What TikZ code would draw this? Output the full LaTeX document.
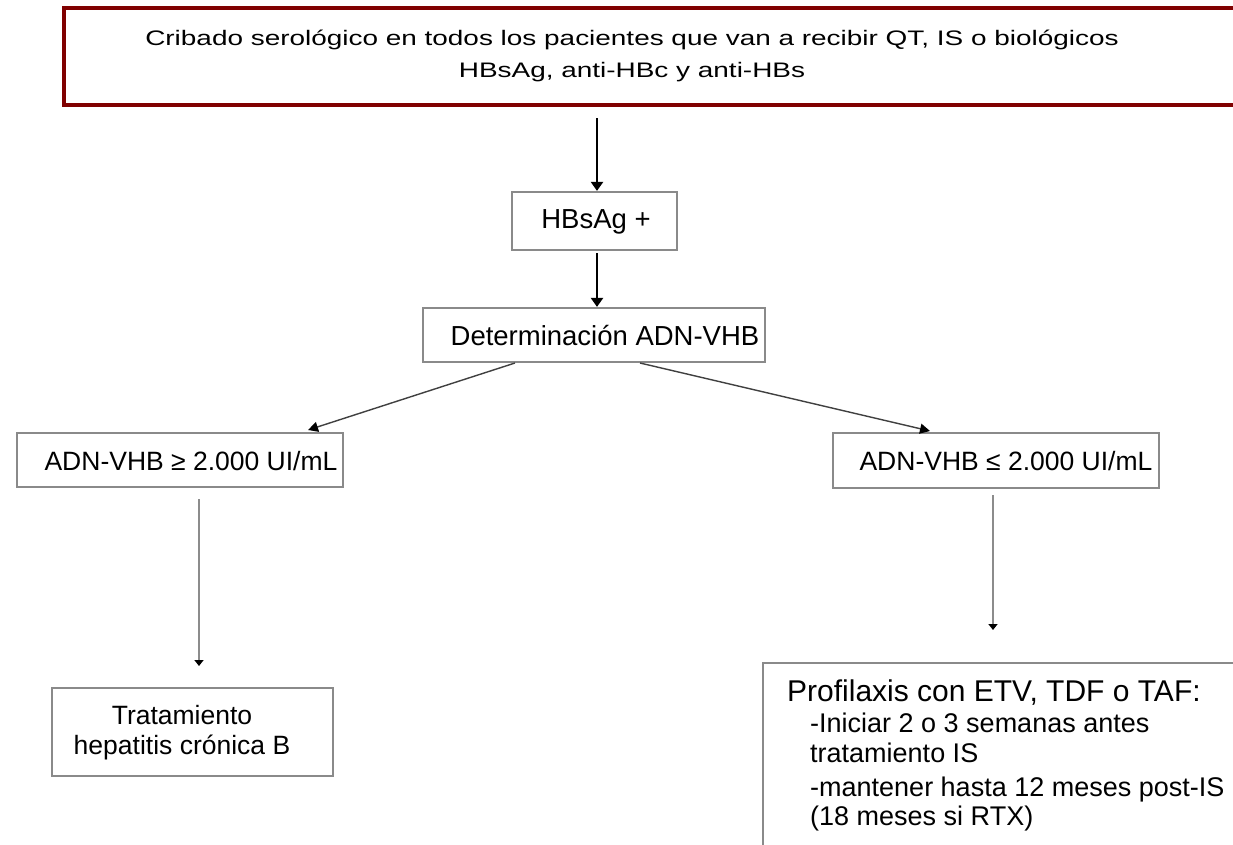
\documentclass[tikz,border=0pt]{standalone}
\usepackage{fontspec}
\setmainfont{Liberation Sans}
\newfontfamily\widesans[FakeStretch=1.33]{Liberation Sans}
\usetikzlibrary{arrows.meta}
\definecolor{boxred}{HTML}{800000}
\definecolor{boxgray}{HTML}{8A8A8A}
\definecolor{linegray}{HTML}{8C8C8C}
\tikzset{
  graybox/.style={draw=boxgray, line width=2.2pt, fill=white, inner sep=0pt},
  redbox/.style={draw=boxred, line width=3.2pt, fill=white, inner sep=0pt},
  lbl/.style={inner sep=0pt, font=\fontsize{27.5}{32}\selectfont},
  itemlbl/.style={inner sep=0pt, anchor=west, font=\fontsize{27}{30}\selectfont},
  thickarrow/.style={draw=black, line width=2.2pt, -{Triangle[length=9pt,width=12pt]}},
  slantarrow/.style={draw=black!75, line width=1.4pt, -{Triangle[length=10pt,width=10pt,color=black]}},
  thinarrow/.style={draw=linegray, line width=2pt, -{Triangle[length=6pt,width=9pt,color=black]}},
}
\begin{document}
\begin{tikzpicture}[x=1pt,y=-1pt]
\useasboundingbox (0,0) rectangle (1233,844);
\fill[white] (0,0) rectangle (1233,844);

% screening box (runs past the right edge)
\node[redbox, minimum width=1220pt, minimum height=97pt] (top) at (674,56.5) {};
\node[lbl, align=center, font=\widesans\fontsize{21}{32}\selectfont] (toptxt) at (632,56)
  {Cribado serológico en todos los pacientes que van a recibir QT, IS o biológicos\\
   HBsAg, anti-HBc y anti-HBs};

% HBsAg positive
\node[graybox, minimum width=165pt, minimum height=58pt] (hbs) at (594.5,221) {};
\node[lbl] at (596,222) {HBsAg +};

% viral load determination
\node[graybox, minimum width=342pt, minimum height=54pt] (det) at (594,335) {};
\node[lbl] at (605,336) {Determinación ADN-VHB};

% viral load branches
\node[graybox, minimum width=326pt, minimum height=54pt] (hi) at (180,460) {};
\node[lbl, font=\fontsize{26.5}{32}\selectfont] at (191,461) {ADN-VHB ≥ 2.000 UI/mL};
\node[graybox, minimum width=326pt, minimum height=55pt] (lo) at (996,460.5) {};
\node[lbl, font=\fontsize{26.5}{32}\selectfont] at (1006,461) {ADN-VHB ≤ 2.000 UI/mL};

% outcomes
\node[graybox, minimum width=281pt, minimum height=88pt] (tx) at (192.5,732) {};
\node[lbl, align=center, font=\fontsize{26.5}{30}\selectfont] at (182,733)
  {Tratamiento\\hepatitis crónica B};

\node[graybox, minimum width=520pt, minimum height=240pt] (prof) at (1023,783) {};
\node[itemlbl, font=\fontsize{30}{32}\selectfont] at (787,693) {Profilaxis con ETV, TDF o TAF:};
\node[itemlbl] at (810,723) {-Iniciar 2 o 3 semanas antes};
\node[itemlbl] at (810,753) {tratamiento IS};
\node[itemlbl] at (810,790) {-mantener hasta 12 meses post-IS};
\node[itemlbl] at (810,818) {(18 meses si RTX)};

% connectors
\coordinate (a1) at (597,118);
\draw[thickarrow] (a1) -- (a1 |- hbs.north);
\coordinate (a2) at (597,253);
\draw[thickarrow] (a2) -- (a2 |- det.north);
\coordinate (d1) at (515,363);
\coordinate (d2) at (640,363);
\coordinate (h1) at (308,430);
\coordinate (l1) at (930,431);
\draw[slantarrow] (d1) -- (h1);
\draw[slantarrow] (d2) -- (l1);
\coordinate (v1) at (199,499);
\coordinate (v1e) at (199,666);
\draw[thinarrow] (v1) -- (v1e);
\coordinate (v2) at (993,495);
\coordinate (v2e) at (993,630);
\draw[thinarrow] (v2) -- (v2e);
\end{tikzpicture}
\end{document}
